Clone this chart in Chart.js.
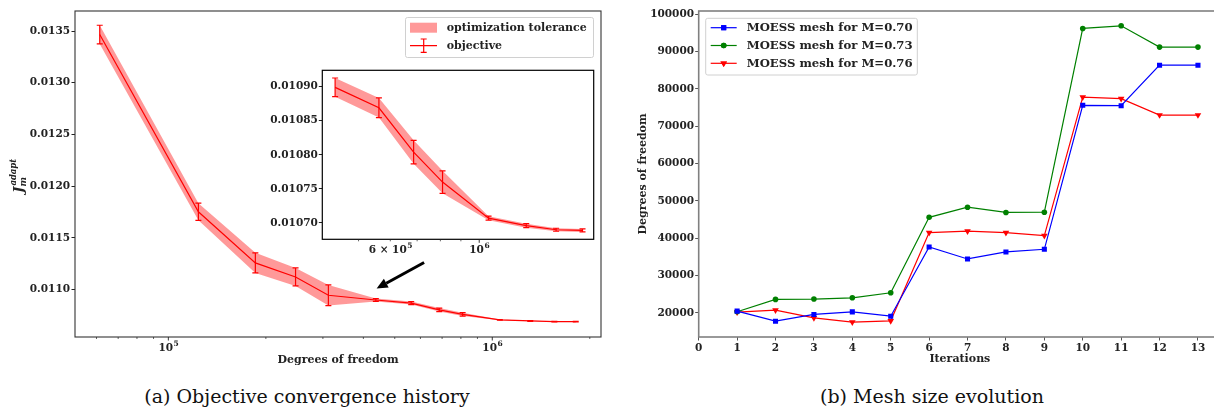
<!DOCTYPE html>
<html>
<head>
<meta charset="utf-8">
<script src="https://cdn.jsdelivr.net/npm/chart.js@4"></script>
<style>
  body { margin: 0; background: #fff; }
  #fig { position: relative; width: 1214px; height: 408px; overflow: hidden; background: #fff; }
  canvas { position: absolute; }
  .caption { position: absolute; top: 386.5px; font-family: "DejaVu Serif", serif; font-size: 19px; line-height: 19px; white-space: nowrap; transform: translateX(-50%); color: #111; }
</style>
</head>
<body>
<div id="fig">
  <canvas id="convergence" width="610" height="372" style="left:0;top:0"></canvas>
  <canvas id="zoomed" width="350" height="200" style="left:250px;top:60px"></canvas>
  <canvas id="meshsize" width="609" height="372" style="left:616px;top:0"></canvas>
  <div class="caption" style="left:307px">(a) Objective convergence history</div>
  <div class="caption" style="left:932px">(b) Mesh size evolution</div>
</div>
<script>
"use strict";

// objective value vs. mesh size (degrees of freedom), with optimizer tolerance
const dof = [61400, 123800, 185600, 247000, 311900, 437000, 562000, 686000, 810000, 1055000, 1310000, 1555000, 1810000];
const objective = [0.013466, 0.011752, 0.011258, 0.011122, 0.010945, 0.010899, 0.010869, 0.010804, 0.010760, 0.010707, 0.010696, 0.010690, 0.010689];
const tolerance = [0.00009, 0.000083, 0.000097, 0.000087, 0.0001, 0.0000137, 0.0000144, 0.0000172, 0.0000165, 0.000003, 0.000003, 0.0000022, 0.0000022];
const insetFrom = 5; // the zoomed view shows the tail of the history

const mainTickValues = [1e5, 1e6];
const mainTickLabels = ['10⁵', '10⁶'];
const insetTickValues = [6e5, 1e6];
const insetTickLabels = ['6 × 10⁵', '10⁶'];

// mesh size evolution for three Mach numbers
const iterations = [1, 2, 3, 4, 5, 6, 7, 8, 9, 10, 11, 12, 13];
const dofM070 = [20460, 17770, 19570, 20270, 19100, 37660, 34440, 36320, 37030, 75600, 75500, 86350, 86350];
const dofM073 = [20300, 23600, 23700, 24030, 25370, 45600, 48300, 46900, 46960, 96200, 96900, 91200, 91200];
const dofM076 = [20190, 20730, 18660, 17500, 17860, 41500, 41880, 41500, 40690, 77800, 77400, 73000, 73000];
const meshLabels = ['MOESS mesh for M=0.70', 'MOESS mesh for M=0.73', 'MOESS mesh for M=0.76'];
const meshYTicks = [20000, 30000, 40000, 50000, 60000, 70000, 80000, 90000, 100000];

const SERIF = '"DejaVu Serif", serif';
const BOLD = 'bold 10.5px ' + SERIF;
const LABEL = 'bold 11px ' + SERIF;
const INK = '#222';
const RED = '#ff0000';
const BAND = 'rgba(255, 0, 0, 0.4)';
const SUPERSCRIPTS = '⁰¹²³⁴⁵⁶⁷⁸⁹';

Chart.defaults.font.family = SERIF;
Chart.defaults.font.weight = 'bold';
Chart.defaults.font.size = 10.5;
Chart.defaults.color = INK;
Chart.defaults.animation = false;

// tolerance band (upper / lower) + objective line
function historyDatasets(from) {
  const xs = dof.slice(from), ys = objective.slice(from), es = tolerance.slice(from);
  return [
    { data: xs.map((x, i) => ({ x, y: ys[i] + es[i] })), borderWidth: 0, borderColor: 'transparent', pointRadius: 0, fill: false },
    { data: xs.map((x, i) => ({ x, y: ys[i] - es[i] })), borderWidth: 0, borderColor: 'transparent', pointRadius: 0, fill: '-1', backgroundColor: BAND },
    { data: xs.map((x, i) => ({ x, y: ys[i] })), err: es, borderColor: RED, borderWidth: 1.2, pointRadius: 0, fill: false }
  ];
}

const errorBars = {
  id: 'errorBars',
  afterDatasetsDraw(chart) {
    const ds = chart.data.datasets[2];
    const { x, y } = chart.scales;
    const ctx = chart.ctx;
    ctx.save();
    ctx.strokeStyle = RED;
    ctx.lineWidth = 1.2;
    ds.data.forEach((p, i) => {
      const px = x.getPixelForValue(p.x);
      const top = y.getPixelForValue(p.y + ds.err[i]);
      const bot = y.getPixelForValue(p.y - ds.err[i]);
      ctx.beginPath();
      ctx.moveTo(px, top); ctx.lineTo(px, bot);
      ctx.moveTo(px - 3, top); ctx.lineTo(px + 3, top);
      ctx.moveTo(px - 3, bot); ctx.lineTo(px + 3, bot);
      ctx.stroke();
    });
    ctx.restore();
  }
};

// axes box, optionally with a white face
const frame = {
  id: 'frame',
  beforeDraw(chart, args, opts) {
    if (!opts.fill) return;
    const { left, top, right, bottom } = chart.chartArea;
    chart.ctx.save();
    chart.ctx.fillStyle = '#fff';
    chart.ctx.fillRect(left, top, right - left, bottom - top);
    chart.ctx.restore();
  },
  afterDraw(chart, args, opts) {
    const { left, top, right, bottom } = chart.chartArea;
    const ctx = chart.ctx;
    ctx.save();
    ctx.strokeStyle = opts.color;
    ctx.lineWidth = opts.width;
    ctx.strokeRect(left, top, right - left, bottom - top);
    ctx.restore();
  }
};

// "6 × 10⁵" -> draws the exponent as a raised, smaller digit
function drawPowerLabel(ctx, text, cx, topY) {
  const k = text.split('').findIndex(c => SUPERSCRIPTS.includes(c));
  const base = k < 0 ? text : text.slice(0, k);
  const exp = k < 0 ? '' : text.slice(k).split('').map(c => SUPERSCRIPTS.indexOf(c)).join('');
  ctx.font = BOLD;
  const wb = ctx.measureText(base).width;
  ctx.font = 'bold 7.5px ' + SERIF;
  const we = ctx.measureText(exp).width;
  let x = cx - (wb + we) / 2;
  ctx.textAlign = 'left';
  ctx.textBaseline = 'alphabetic';
  ctx.font = BOLD;
  ctx.fillText(base, x, topY + 10);
  ctx.font = 'bold 7.5px ' + SERIF;
  ctx.fillText(exp, x + wb + 0.5, topY + 5);
}

// log x axis: short minor ticks, longer decade ticks, labels only where given
const logTicks = {
  id: 'logTicks',
  afterDraw(chart, args, opts) {
    const sx = chart.scales.x;
    const bottom = chart.chartArea.bottom;
    const ctx = chart.ctx;
    ctx.save();
    ctx.strokeStyle = INK;
    for (let e = 4; e <= 6; e++) {
      for (let m = 1; m <= 9; m++) {
        const v = m * Math.pow(10, e);
        if (v < sx.min || v > sx.max) continue;
        const px = sx.getPixelForValue(v);
        ctx.lineWidth = m === 1 ? 0.9 : 0.7;
        ctx.beginPath();
        ctx.moveTo(px, bottom);
        ctx.lineTo(px, bottom + (m === 1 ? 3.5 : 2));
        ctx.stroke();
      }
    }
    ctx.fillStyle = INK;
    opts.values.forEach((v, i) => {
      drawPowerLabel(ctx, opts.labels[i], sx.getPixelForValue(v), bottom + opts.gap);
    });
    ctx.restore();
  }
};

const historyDecor = {
  id: 'historyDecor',
  afterDraw(chart, args, opts) {
    const ctx = chart.ctx;
    const { left, right, top, bottom } = chart.chartArea;
    const sx = chart.scales.x, sy = chart.scales.y;
    ctx.save();

    // arrow pointing from the inset to the zoomed part of the curve
    const x0 = sx.getPixelForValue(opts.arrowFrom.x), y0 = sy.getPixelForValue(opts.arrowFrom.y);
    const x1 = sx.getPixelForValue(opts.arrowTo.x), y1 = sy.getPixelForValue(opts.arrowTo.y);
    const ang = Math.atan2(y1 - y0, x1 - x0);
    const head = 11, half = 5;
    const bx = x1 - head * Math.cos(ang), by = y1 - head * Math.sin(ang);
    ctx.strokeStyle = '#000';
    ctx.fillStyle = '#000';
    ctx.lineWidth = 3;
    ctx.beginPath();
    ctx.moveTo(x0, y0);
    ctx.lineTo(bx, by);
    ctx.stroke();
    ctx.beginPath();
    ctx.moveTo(x1, y1);
    ctx.lineTo(bx + half * Math.sin(ang), by - half * Math.cos(ang));
    ctx.lineTo(bx - half * Math.sin(ang), by + half * Math.cos(ang));
    ctx.closePath();
    ctx.fill();

    // legend
    const lx = 405.5, ly = 17.5, lw = 188, lh = 40;
    ctx.fillStyle = 'rgba(255,255,255,0.85)';
    ctx.strokeStyle = '#d0d0d0';
    ctx.lineWidth = 1;
    ctx.beginPath();
    ctx.roundRect(lx, ly, lw, lh, 2);
    ctx.fill();
    ctx.stroke();
    ctx.fillStyle = BAND;
    ctx.fillRect(410, 22.7, 27, 10);
    ctx.strokeStyle = RED;
    ctx.lineWidth = 1.2;
    ctx.beginPath();
    ctx.moveTo(410, 45.7); ctx.lineTo(437, 45.7);
    ctx.moveTo(423.7, 39); ctx.lineTo(423.7, 52.3);
    ctx.moveTo(420.7, 39); ctx.lineTo(426.7, 39);
    ctx.moveTo(420.7, 52.3); ctx.lineTo(426.7, 52.3);
    ctx.stroke();
    ctx.fillStyle = INK;
    ctx.font = LABEL;
    ctx.textBaseline = 'middle';
    ctx.fillText('optimization tolerance', 446.7, 28);
    ctx.fillText('objective', 446.7, 46);

    // axis titles
    ctx.textAlign = 'center';
    ctx.fillText('Degrees of freedom', (left + right) / 2, 360);
    const cy = (top + bottom) / 2;
    ctx.translate(23, cy);
    ctx.rotate(-Math.PI / 2);
    ctx.textAlign = 'left';
    ctx.textBaseline = 'alphabetic';
    ctx.font = 'italic bold 13.5px ' + SERIF;
    ctx.fillText('J', -19, 0);
    const wJ = ctx.measureText('J').width;
    ctx.font = 'italic bold 8.5px ' + SERIF;
    ctx.fillText('adapt', -19 + wJ + 1, -7);
    ctx.font = 'italic bold 9px ' + SERIF;
    ctx.fillText('m', -19 + wJ, 2.5);
    ctx.restore();
  }
};

new Chart(document.getElementById('convergence'), {
  type: 'line',
  data: { datasets: historyDatasets(0) },
  options: {
    responsive: false,
    layout: { padding: { top: 11, right: 9, bottom: 35, left: 0 } },
    elements: { line: { tension: 0 } },
    scales: {
      x: { type: 'logarithmic', min: 51500, max: 2166000, display: false },
      y: {
        min: 0.010541, max: 0.013694,
        afterFit: s => { s.width = 75; },
        border: { display: false },
        grid: { drawOnChartArea: false, drawTicks: true, tickLength: 3.5, color: INK },
        ticks: { stepSize: 0.0005, includeBounds: false, padding: 1.5, callback: v => v.toFixed(4) }
      }
    },
    plugins: {
      legend: { display: false },
      tooltip: { enabled: false },
      frame: { color: '#333', width: 1.1 },
      logTicks: { values: mainTickValues, labels: mainTickLabels, gap: 4 },
      historyDecor: { arrowFrom: { x: 616000, y: 0.011262 }, arrowTo: { x: 439500, y: 0.01101 } }
    }
  },
  plugins: [frame, errorBars, logTicks, historyDecor]
});

new Chart(document.getElementById('zoomed'), {
  type: 'line',
  data: { datasets: historyDatasets(insetFrom) },
  options: {
    responsive: false,
    layout: { padding: { top: 10.3, right: 6.3, bottom: 20.7, left: 0 } },
    elements: { line: { tension: 0 } },
    scales: {
      x: { type: 'logarithmic', min: 406000, max: 1930000, display: false },
      y: {
        min: 0.010676, max: 0.010924,
        afterFit: s => { s.width = 72.3; },
        border: { display: false },
        grid: { drawOnChartArea: false, drawTicks: true, tickLength: 3.5, color: INK },
        ticks: { stepSize: 0.00005, includeBounds: false, padding: 1, callback: v => v.toFixed(5) }
      }
    },
    plugins: {
      legend: { display: false },
      tooltip: { enabled: false },
      frame: { color: '#000', width: 1.2, fill: true },
      logTicks: { values: insetTickValues, labels: insetTickLabels, gap: 4 }
    }
  },
  plugins: [frame, errorBars, logTicks]
});

// --- mesh size evolution ---
const meshColors = ['#0000ff', '#008000', '#ff0000'];
const meshStyles = [
  { pointStyle: 'rect', pointRadius: 3.6, pointRotation: 0 },
  { pointStyle: 'circle', pointRadius: 2.8, pointRotation: 0 },
  { pointStyle: 'triangle', pointRadius: 3.8, pointRotation: 180 }
];

const meshDecor = {
  id: 'meshDecor',
  afterDraw(chart) {
    const ctx = chart.ctx;
    const { left, right, top, bottom } = chart.chartArea;
    ctx.save();
    // legend box
    const lx = 89.7, ly = 18.3, lw = 211.6, lh = 56.7;
    ctx.fillStyle = 'rgba(255,255,255,0.85)';
    ctx.strokeStyle = '#d0d0d0';
    ctx.lineWidth = 1;
    ctx.beginPath();
    ctx.roundRect(lx, ly, lw, lh, 2);
    ctx.fill();
    ctx.stroke();
    chart.data.datasets.forEach((ds, i) => {
      const yy = 27.7 + i * 17.8;
      ctx.strokeStyle = ds.borderColor;
      ctx.lineWidth = 1.2;
      ctx.beginPath();
      ctx.moveTo(94.7, yy); ctx.lineTo(120.7, yy);
      ctx.stroke();
      ctx.fillStyle = ds.borderColor;
      Chart.helpers.drawPoint(ctx, { pointStyle: ds.pointStyle, radius: ds.pointRadius, rotation: ds.pointRotation, borderWidth: 0 }, 107.7, yy);
      ctx.fill();
      ctx.fillStyle = INK;
      ctx.font = 'bold 11.7px ' + SERIF;
      ctx.textBaseline = 'middle';
      ctx.textAlign = 'left';
      ctx.fillText(ds.label, 130.7, yy + 0.5);
    });
    // axis titles
    ctx.fillStyle = INK;
    ctx.font = LABEL;
    ctx.textAlign = 'center';
    ctx.textBaseline = 'middle';
    ctx.fillText('Iterations', (left + right) / 2, 359);
    ctx.translate(26.7, (top + bottom) / 2);
    ctx.rotate(-Math.PI / 2);
    ctx.fillText('Degrees of freedom', 0, 0);
    ctx.restore();
  }
};

new Chart(document.getElementById('meshsize'), {
  type: 'line',
  data: {
    datasets: [dofM070, dofM073, dofM076].map((vals, i) => Object.assign({
      label: meshLabels[i],
      data: iterations.map((it, k) => ({ x: it, y: vals[k] })),
      borderColor: meshColors[i],
      backgroundColor: meshColors[i],
      pointBorderWidth: 0,
      borderWidth: 1.2,
      tension: 0
    }, meshStyles[i]))
  },
  options: {
    responsive: false,
    layout: { padding: { top: 11, right: 0, bottom: 0, left: 0 } },
    scales: {
      x: {
        type: 'linear', min: 0, max: 13.6,
        afterFit: s => { s.height = 35; },
        border: { display: false },
        grid: { drawOnChartArea: false, drawTicks: true, tickLength: 3.5, color: '#555' },
        ticks: { stepSize: 1, includeBounds: false, padding: 1.5, maxRotation: 0 }
      },
      y: {
        min: 13530, max: 100870,
        afterFit: s => { s.width = 82.7; },
        afterBuildTicks: s => { s.ticks = meshYTicks.map(v => ({ value: v })); },
        border: { display: false },
        grid: { drawOnChartArea: false, drawTicks: true, tickLength: 3.5, color: '#555' },
        ticks: { padding: 1.2, callback: v => String(v) }
      }
    },
    plugins: {
      legend: { display: false },
      tooltip: { enabled: false },
      frame: { color: '#808080', width: 1.6 }
    }
  },
  plugins: [frame, meshDecor]
});
</script>
</body>
</html>
